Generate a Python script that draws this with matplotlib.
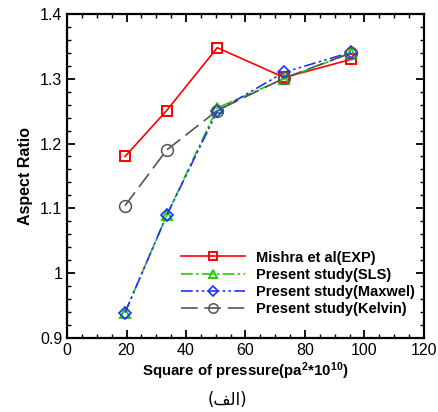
#!/usr/bin/env python3
import matplotlib
matplotlib.use("Agg")
import matplotlib.pyplot as plt
from matplotlib.ticker import MultipleLocator

plt.rcParams['font.family'] = ['Liberation Sans', 'DejaVu Sans']
plt.rcParams['mathtext.fontset'] = 'custom'
plt.rcParams['mathtext.rm'] = 'Liberation Sans:bold'
plt.rcParams['mathtext.default'] = 'rm'

# Data
pressure = [19.5, 33.5, 50.5, 73, 95.5]
mishra = [1.18, 1.251, 1.348, 1.302, 1.330]
sls = [0.939, 1.089, 1.255, 1.300, 1.340]
maxwell = [0.939, 1.089, 1.250, 1.310, 1.341]
kelvin = [1.104, 1.190, 1.251, 1.301, 1.340]

labels = ["Mishra et al(EXP)", "Present study(SLS)",
          "Present study(Maxwel)", "Present study(Kelvin)"]

# Arabic caption "(الف)" written in presentation forms so it shows joined, right to left
caption = "(\uFED2\uFEDF\uFE8D)"

fig = plt.figure(figsize=(4.38, 4.12), dpi=100)
ax = fig.add_axes([0.153, 0.180, 0.815, 0.786])

ax.plot(pressure, mishra, color='red', linestyle='-', linewidth=1.2,
        marker='s', markersize=7, markerfacecolor='none', markeredgewidth=1.4,
        label=labels[0])
ax.plot(pressure, sls, color='#22cc00', linestyle=(0, (7, 2, 1.5, 2)), linewidth=1.2,
        marker='^', markersize=7.5, markerfacecolor='none', markeredgewidth=1.4,
        label=labels[1])
ax.plot(pressure, maxwell, color='#2030ff', linestyle=(0, (7, 2, 1.5, 2, 1.5, 2)), linewidth=1.2,
        marker='D', markersize=6.5, markerfacecolor='none', markeredgewidth=1.2,
        label=labels[2])
ax.plot(pressure, kelvin, color='#555555', linestyle=(0, (10, 4)), linewidth=1.2,
        marker='o', markersize=8.5, markerfacecolor='none', markeredgewidth=1.1,
        label=labels[3])

ax.set_xlim(0, 120)
ax.set_ylim(0.9, 1.4)
ax.xaxis.set_major_locator(MultipleLocator(20))
ax.xaxis.set_minor_locator(MultipleLocator(5))
ax.yaxis.set_minor_locator(MultipleLocator(0.02))
ax.set_yticks([0.9, 1.0, 1.1, 1.2, 1.3, 1.4])
ax.set_yticklabels(["0.9", "1", "1.1", "1.2", "1.3", "1.4"])

ax.tick_params(which='both', direction='in', top=True, right=True, labelsize=11.5)
ax.tick_params(which='major', length=6, width=1.3)
ax.tick_params(which='minor', length=3, width=1.0)
for s in ax.spines.values():
    s.set_linewidth(1.6)

ax.set_xlabel(r"Square of pressure(pa$^{2}$*10$^{10}$)", fontsize=10.8, fontweight='bold', labelpad=2)
ax.set_ylabel("Aspect Ratio", fontsize=11.5, fontweight='bold', labelpad=5)

ax.legend(loc='lower right', bbox_to_anchor=(1.0, 0.04), frameon=False,
          prop={'weight': 'bold', 'size': 10.5}, handlelength=4.4,
          handletextpad=0.8, labelspacing=0.22, borderaxespad=0.2,
          markerscale=0.8)

fig.text(0.52, 0.03, caption, ha='center', va='center', fontsize=12,
         family=['DejaVu Sans'])

fig.savefig("out.png", dpi=100)
